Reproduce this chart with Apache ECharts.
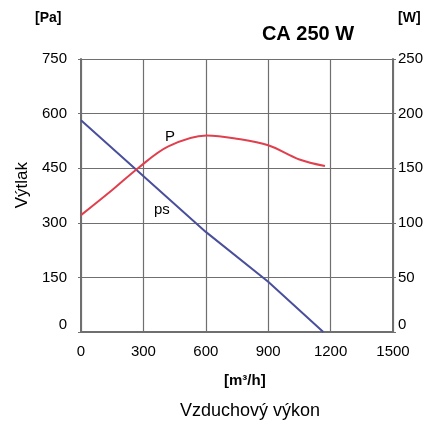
<!DOCTYPE html>
<html>
<head>
<meta charset="utf-8">
<script src="https://cdn.jsdelivr.net/npm/echarts@6/dist/echarts.min.js"></script>
<style>
  html, body { margin: 0; padding: 0; background: #fff; }
  #chart { width: 437px; height: 430px; }
</style>
</head>
<body>
<div id="chart"></div>
<script>
// flow [m3/h] vs static pressure [Pa]
const psPoints = [[0, 582], [600, 275], [900, 138], [1165, 0]]
// flow [m3/h] vs power [W]
const powerPoints = [[0, 107], [150, 130], [274, 150], [420, 170], [604, 180], [750, 177], [900, 171], [1050, 158], [1173, 152]]
const xTicks = [0, 300, 600, 900, 1200, 1500]
const paTicks = [0, 150, 300, 450, 600, 750]
const wTicks = [0, 50, 100, 150, 200, 250]

const chart = echarts.init(document.getElementById('chart'))
const font = 'Liberation Sans, Arial, sans-serif'
const gridColor = '#6f6f6f'

const option = {
  animation: false,
  textStyle: { fontFamily: font },
  grid: { left: 81, right: 44, top: 59, bottom: 98 },
  title: {
    text: 'CA 250 W',
    left: 303,
    top: 19,
    textAlign: 'center',
    textStyle: { fontSize: 20, fontWeight: 'bold', color: '#000', fontFamily: font }
  },
  graphic: [
    { type: 'text', left: 35, top: 11, style: { text: '[Pa]', font: 'bold 14px ' + font, fill: '#000' } },
    { type: 'text', left: 398, top: 11, style: { text: '[W]', font: 'bold 14px ' + font, fill: '#000' } },
    { type: 'text', left: 224, top: 373, style: { text: '[m³/h]', font: 'bold 15px ' + font, fill: '#000' } },
    { type: 'text', left: 180, top: 402, style: { text: 'Vzduchový výkon', font: '18px ' + font, fill: '#000' } },
    { type: 'text', left: 14, top: 162, rotation: Math.PI / 2, style: { text: 'Výtlak', font: '17px ' + font, fill: '#000' } }
  ],
  xAxis: {
    type: 'value',
    min: xTicks[0],
    max: xTicks[xTicks.length - 1],
    interval: 300,
    axisLine: { show: true, lineStyle: { color: gridColor, width: 2 } },
    axisTick: { show: false },
    splitLine: { lineStyle: { color: gridColor, width: 1.2 } },
    axisLabel: {
      color: '#000', fontSize: 15, margin: 12,
      formatter: v => String(v)
    }
  },
  yAxis: [
    {
      type: 'value',
      min: paTicks[0],
      max: paTicks[paTicks.length - 1],
      interval: 150,
      axisLine: { show: true, lineStyle: { color: gridColor, width: 2 } },
      axisTick: { show: true, length: 3, lineStyle: { color: gridColor } },
      splitLine: { lineStyle: { color: gridColor, width: 1.2 } },
      axisLabel: { color: '#000', fontSize: 15, margin: 14, verticalAlignMinLabel: 'bottom' }
    },
    {
      type: 'value',
      min: wTicks[0],
      max: wTicks[wTicks.length - 1],
      interval: 50,
      position: 'right',
      axisLine: { show: true, lineStyle: { color: gridColor, width: 2 } },
      axisTick: { show: true, length: 3, lineStyle: { color: gridColor } },
      splitLine: { show: false },
      axisLabel: { color: '#000', fontSize: 15, margin: 5, verticalAlignMinLabel: 'bottom' }
    }
  ],
  series: [
    {
      name: 'ps',
      type: 'line',
      yAxisIndex: 0,
      data: psPoints,
      symbol: 'none',
      lineStyle: { color: '#4a4f9c', width: 2 },
      markPoint: {
        symbolSize: 0,
        data: [{ coord: [389, 335], value: 'ps' }],
        label: { show: true, formatter: 'ps', color: '#000', fontSize: 15, fontFamily: font }
      }
    },
    {
      name: 'P',
      type: 'line',
      yAxisIndex: 1,
      data: powerPoints,
      smooth: 0.35,
      symbol: 'none',
      lineStyle: { color: '#e0404e', width: 2 },
      markPoint: {
        symbolSize: 0,
        data: [{ coord: [428, 178.6], value: 'P' }],
        label: { show: true, formatter: 'P', color: '#000', fontSize: 15, fontFamily: font }
      }
    }
  ]
}

chart.setOption(option)
</script>
</body>
</html>
